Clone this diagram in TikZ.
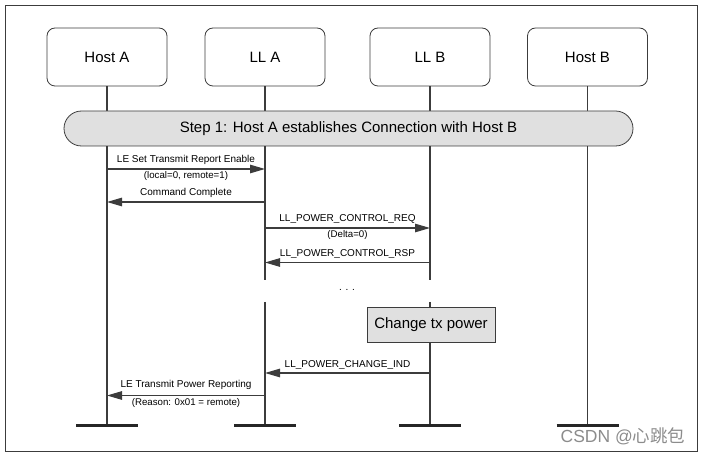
\documentclass[tikz,border=0pt]{standalone}
\usepackage{fontspec}
\setmainfont{Liberation Sans}
\newfontfamily\cjkfont{Noto Sans CJK SC}
\usetikzlibrary{positioning, arrows.meta}
\definecolor{lineGray}{HTML}{3C3C3C}
\definecolor{fillGray}{HTML}{E0E0E0}
\tikzstyle{entityBox} = [shape=rectangle, draw=lineGray, thick, rounded corners=8pt,
	minimum width=120pt, minimum height=58pt, fill=white, font=\fontsize{15}{18}\selectfont]
\tikzstyle{grayBox} = [shape=rectangle, draw=lineGray, thick, fill=fillGray, font=\fontsize{15}{18}\selectfont]
\tikzstyle{lifeLine} = [draw=lineGray, line width=1.1pt]
\tikzstyle{msgArrow} = [draw=lineGray, line width=1.1pt, -{Triangle[length=15pt,width=8.5pt]}]
\tikzstyle{msgAbove} = [midway, anchor=base, yshift=6pt, inner sep=0pt, font=\fontsize{10}{12}\selectfont]
\tikzstyle{msgBelow} = [midway, anchor=base, yshift=-10pt, inner sep=0pt, font=\fontsize{9.7}{12}\selectfont]
\tikzstyle{endBar} = [draw=black!85, line width=2.4pt]

\begin{document}
\begin{tikzpicture}[x=1pt, y=-1pt]
  \useasboundingbox (0,0) rectangle (704,454);
  \draw[lineGray, line width=1pt] (5.5,5.5) rectangle (697.5,451);

  \node (hostA) at (107,57) [entityBox] {Host A};
  \node (llA) at (265,57) [entityBox] {LL A};
  \node (llB) at (430,57) [entityBox] {LL B};
  \node (hostB) at (587.5,57) [entityBox] {Host B};

  % lifelines and their end bars
  \coordinate (hostAEnd) at (107,425.5);
  \coordinate (llAEnd) at (265,425.5);
  \coordinate (llBEnd) at (430,425.5);
  \coordinate (hostBEnd) at (587.5,425.5);
  \coordinate (llAGapTop) at (265,280);
  \coordinate (llAGapBot) at (265,302);
  \coordinate (llBGapTop) at (430,280);
  \coordinate (llBGapBot) at (430,302);
  \draw[lifeLine] (hostA) -- (hostAEnd);
  \draw[lifeLine] (hostB) -- (hostBEnd);
  \draw[lifeLine] (llA) -- (llAGapTop);
  \draw[lifeLine] (llAGapBot) -- (llAEnd);
  \draw[lifeLine] (llB) -- (llBGapTop);
  \draw[lifeLine] (llBGapBot) -- (llBEnd);
  \foreach \e in {hostAEnd, llAEnd, llBEnd, hostBEnd}
    \draw[endBar] ([xshift=-31pt]\e) -- ([xshift=31pt]\e);

  \node (step) at (348.5,128.5) [grayBox, rounded corners=17.5pt, minimum width=569pt, minimum height=35pt]
    {Step 1: Host A establishes Connection with Host B};

  % messages
  \coordinate (m1a) at (107,169); \coordinate (m1b) at (265,169);
  \coordinate (m2a) at (265,202); \coordinate (m2b) at (107,202);
  \coordinate (m3a) at (265,228); \coordinate (m3b) at (430,228);
  \coordinate (m4a) at (430,262.5); \coordinate (m4b) at (265,262.5);
  \coordinate (m5a) at (430,373); \coordinate (m5b) at (265,373);
  \coordinate (m6a) at (265,395.5); \coordinate (m6b) at (107,395.5);

  \draw[msgArrow] (m1a) -- (m1b) node[msgAbove] {LE Set Transmit Report Enable}
    node[msgBelow] {(local=0, remote=1)};
  \draw[msgArrow] (m2a) -- (m2b) node[msgAbove] {Command Complete};
  \draw[msgArrow] (m3a) -- (m3b) node[msgAbove] {LL\_POWER\_CONTROL\_REQ}
    node[msgBelow] {(Delta=0)};
  \draw[msgArrow] (m4a) -- (m4b) node[msgAbove] {LL\_POWER\_CONTROL\_RSP};

  \node (dots) at (347,290) [font=\fontsize{10}{12}\selectfont] {. . .};
  \node (txPower) at (431,324.5) [grayBox, minimum width=128pt, minimum height=35pt] {Change tx power};

  \draw[msgArrow] (m5a) -- (m5b) node[msgAbove] {LL\_POWER\_CHANGE\_IND};
  \draw[msgArrow] (m6a) -- (m6b) node[msgAbove, yshift=2pt] {LE Transmit Power Reporting}
    node[msgBelow] {(Reason: 0x01 = remote)};

  \node (mark) at (623,436) [text=black!45, font=\fontsize{17.5}{20}\selectfont] {CSDN @{\cjkfont 心跳包}};
\end{tikzpicture}
\end{document}
